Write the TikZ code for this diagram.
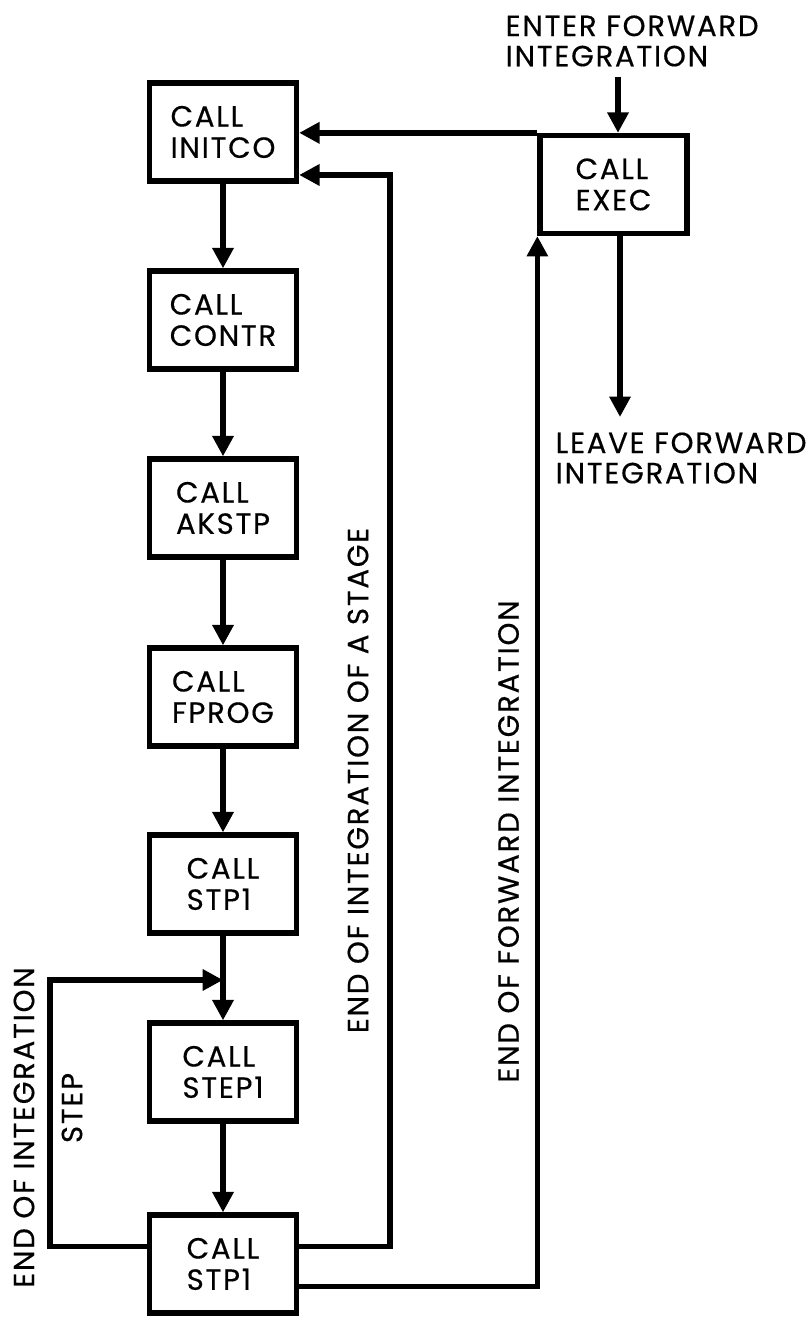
\documentclass[tikz,border=0pt]{standalone}
\usepackage{fontspec}
\setmainfont{Poppins}[FakeBold=0.4,LetterSpace=6]
\usetikzlibrary{arrows.meta}

\tikzset{
  callbox/.style={draw,line width=1.5pt,minimum width=1.47cm,minimum height=0.98cm,
    align=left,inner sep=0pt,font=\fontsize{8.3}{8.9}\selectfont},
  flow/.style={line width=1.6pt,-{Triangle[length=5.8pt,width=5.8pt]}},
  lbl/.style={inner sep=0pt,font=\fontsize{8.3}{8.6}\selectfont},
}

\begin{document}
\begin{tikzpicture}
\useasboundingbox (0,0) rectangle (8.1,13.2);
% call chain
\node[callbox] (init) at (2.23,11.88) {CALL\\INITCO};
\node[callbox] (contr) at (2.23,10.00) {CALL\\CONTR};
\node[callbox] (akstp) at (2.23,8.12) {CALL\\AKSTP};
\node[callbox] (fprog) at (2.23,6.23) {CALL\\FPROG};
\node[callbox] (stpa) at (2.23,4.36) {CALL\\STP1};
\node[callbox] (step) at (2.23,2.48) {CALL\\STEP1};
\node[callbox] (stpb) at (2.23,0.56) {CALL\\STP1};
\node[callbox] (exec) at (6.135,11.355) {CALL\\EXEC};

% entry and exit
\node[lbl,anchor=west,align=left] (enter) at (5.05,12.79) {ENTER FORWARD\\INTEGRATION};
\node[lbl,anchor=west,align=left] (leave) at (5.55,8.62) {LEAVE FORWARD\\INTEGRATION};
\coordinate (entry) at (6.18,12.43);
\coordinate (exit) at (6.2,9.03);
\draw[flow] (entry) -- (entry |- exec.north);
\draw[flow] (exit |- exec.south) -- (exit);

\draw[flow] (init) -- (contr);
\draw[flow] (contr) -- (akstp);
\draw[flow] (akstp) -- (fprog);
\draw[flow] (fprog) -- (stpa);
\draw[flow] (stpa) -- (step);
\draw[flow] (step) -- (stpb);

% loops back
\draw[flow] (exec.north west) -- (exec.north west -| init.east);
\coordinate (stage) at (3.90,11.45);
\draw[flow] ([yshift=1.75mm]stpb.east) -| (stage) -- (stage -| init.east);
\draw[flow] ([yshift=-2.25mm]stpb.east) -| (exec.south west);
\coordinate (loopin) at (2.23,3.40);
\draw[flow] ([yshift=1.75mm]stpb.west) -| (0.50,3.40) -- (loopin);

% loop labels
\node[lbl,rotate=90] (endint) at (0.24,1.925) {END OF INTEGRATION};
\node[lbl,rotate=90] (steplbl) at (0.72,2.12) {STEP};
\node[lbl,rotate=90] (endstage) at (3.58,5.395) {END OF INTEGRATION OF A STAGE};
\node[lbl,rotate=90] (endfwd) at (5.085,4.785) {END OF FORWARD INTEGRATION};
\end{tikzpicture}
\end{document}
